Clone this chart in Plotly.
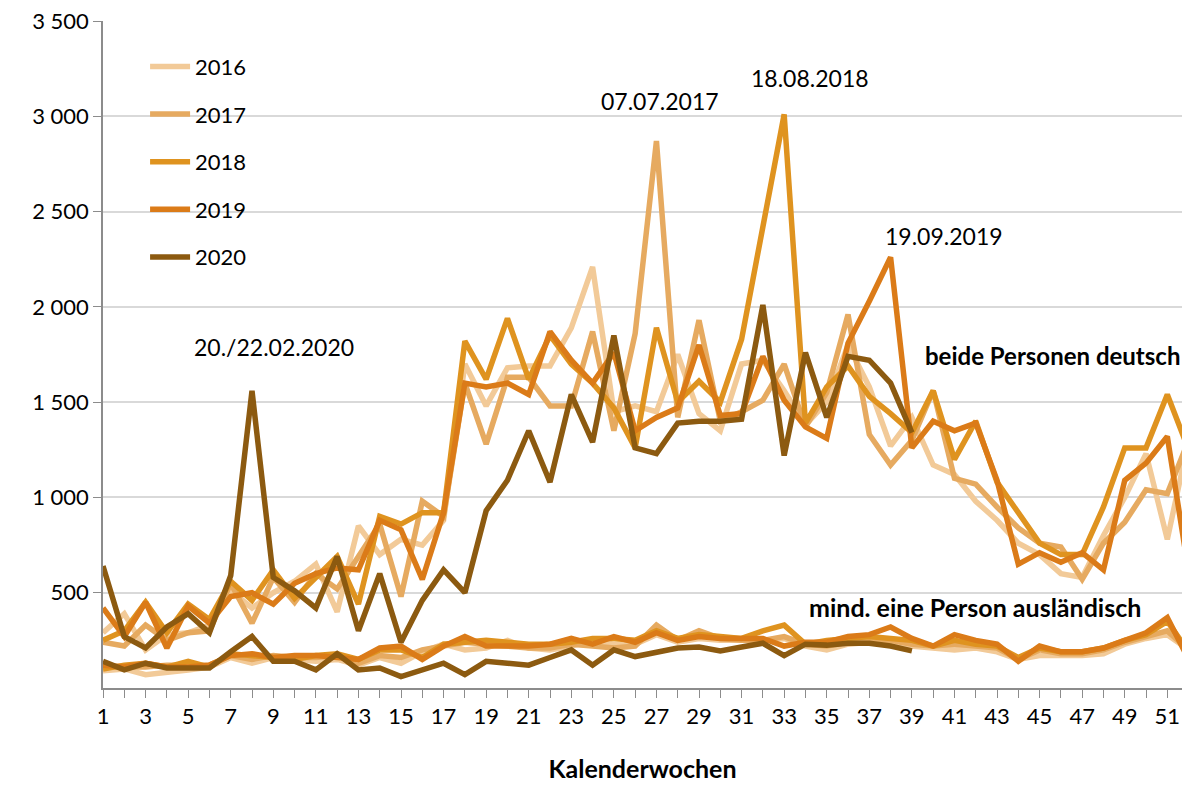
import plotly.graph_objects as go

weeks = list(range(1, 53))
years = ["2016", "2017", "2018", "2019", "2020"]
colors = ["#F2CA98", "#E6AA60", "#DF931F", "#DB7B18", "#8C5A10"]

# beide Personen deutsch
beide_2016 = [290, 390, 200, 280, 290, 330, 510, 420, 500, 560, 650, 400, 850, 700, 780, 750, 880, 1700, 1480, 1680,
              1690, 1690, 1890, 2210, 1450, 1480, 1450, 1750, 1440, 1350, 1700, 1720, 1560, 1380, 1500, 1800, 1580, 1270,
              1420, 1170, 1120, 980, 880, 760, 700, 600, 580, 800, 1000, 1230, 780, 1300]
beide_2017 = [240, 220, 330, 250, 290, 300, 550, 340, 580, 450, 600, 520, 690, 860, 480, 980, 900, 1600, 1280, 1630,
              1630, 1480, 1480, 1870, 1350, 1860, 2870, 1420, 1930, 1400, 1450, 1510, 1700, 1370, 1550, 1960, 1330, 1170,
              1300, 1560, 1100, 1070, 950, 840, 760, 740, 570, 760, 870, 1040, 1020, 1300]
beide_2018 = [250, 300, 450, 290, 440, 360, 560, 460, 620, 470, 580, 690, 440, 900, 860, 920, 920, 1820, 1620, 1940,
              1620, 1850, 1700, 1600, 1470, 1260, 1890, 1500, 1610, 1500, 1830, 2420, 3010, 1390, 1580, 1690, 1530, 1440,
              1340, 1560, 1200, 1400, 1080, 920, 760, 700, 700, 950, 1260, 1260, 1540, 1250]
beide_2019 = [420, 270, 450, 210, 430, 340, 480, 500, 440, 550, 600, 630, 620, 880, 830, 570, 920, 1600, 1580, 1600,
              1540, 1870, 1720, 1600, 1760, 1350, 1420, 1470, 1800, 1430, 1440, 1740, 1510, 1370, 1310, 1810, 2030, 2260,
              1260, 1400, 1350, 1390, 1090, 650, 710, 660, 710, 620, 1090, 1180, 1320, 610]
beide_2020 = [640, 270, 210, 320, 390, 290, 590, 1560, 580, 510, 420, 690, 300, 600, 240, 460, 620, 500, 930, 1090,
              1350, 1080, 1540, 1290, 1850, 1260, 1230, 1390, 1400, 1400, 1410, 2010, 1220, 1760, 1420, 1740, 1720, 1600,
              1340]

# mind. eine Person ausländisch
mind_2016 = [90, 100, 70, 80, 95, 110, 160, 130, 160, 150, 140, 150, 120, 160, 130, 190, 230, 200, 210, 250,
             210, 200, 220, 250, 230, 230, 280, 240, 260, 250, 250, 250, 260, 220, 200, 230, 240, 230, 220, 210,
             200, 210, 190, 150, 170, 170, 170, 180, 230, 260, 280, 200]
mind_2017 = [110, 110, 110, 120, 120, 120, 170, 150, 170, 160, 160, 170, 130, 170, 160, 200, 220, 240, 230, 220,
             210, 210, 230, 220, 210, 220, 330, 250, 300, 260, 250, 250, 270, 230, 220, 240, 250, 250, 230, 220,
             230, 220, 210, 150, 200, 180, 180, 200, 240, 270, 300, 200]
mind_2018 = [100, 120, 130, 110, 140, 110, 180, 170, 160, 150, 170, 180, 150, 200, 200, 160, 230, 240, 250, 240,
             230, 230, 240, 260, 260, 250, 300, 260, 280, 270, 260, 300, 330, 230, 250, 260, 270, 260, 250, 220,
             250, 230, 220, 160, 210, 190, 190, 210, 250, 280, 350, 190]
mind_2019 = [120, 110, 130, 110, 110, 120, 170, 180, 160, 170, 170, 160, 150, 210, 220, 150, 220, 270, 220, 220,
             220, 230, 260, 230, 270, 240, 290, 250, 270, 260, 260, 260, 220, 240, 240, 270, 280, 320, 260, 220,
             280, 250, 230, 140, 220, 190, 190, 210, 250, 290, 370, 150]
mind_2020 = [140, 95, 130, 105, 105, 105, 190, 270, 140, 140, 95, 180, 95, 105, 60, 95, 130, 70, 140, 130,
             120, 160, 200, 120, 200, 165, 185, 210, 215, 195, 215, 235, 170, 230, 225, 235, 235, 220, 195]

beide = [beide_2016, beide_2017, beide_2018, beide_2019, beide_2020]
mind = [mind_2016, mind_2017, mind_2018, mind_2019, mind_2020]

y_ticks = [500, 1000, 1500, 2000, 2500, 3000, 3500]
y_tick_text = ["500", "1 000", "1 500", "2 000", "2 500", "3 000", "3 500"]

# label text, label position (week, value)
peak_labels = [("20./22.02.2020", 9.05, 1790), ("07.07.2017", 27.15, 3080),
               ("18.08.2018", 34.2, 3200), ("19.09.2019", 40.5, 2370)]

FONT = "Lato, 'Open Sans', sans-serif"

fig = go.Figure()
for yr, col, m in zip(years, colors, mind):
    fig.add_trace(go.Scatter(x=weeks[:len(m)], y=m, mode="lines", name=yr, legendgroup=yr, showlegend=False,
                             line=dict(color=col, width=5.5), hoverinfo="skip"))
for yr, col, b in zip(years, colors, beide):
    fig.add_trace(go.Scatter(x=weeks[:len(b)], y=b, mode="lines", name=yr, legendgroup=yr, showlegend=True,
                             line=dict(color=col, width=5.5)))

for txt, wk, val in peak_labels:
    fig.add_annotation(x=wk, y=val, text=txt, showarrow=False, xanchor="center", yanchor="middle",
                       font=dict(family=FONT, size=23, color="#000000"))

fig.add_annotation(x=1.0, xref="paper", y=1745, text="<b>beide Personen deutsch</b>", showarrow=False,
                   xanchor="right", yanchor="middle", font=dict(family=FONT, size=24, color="#000000"))
fig.add_annotation(x=41.95, y=425, text="<b>mind. eine Person ausländisch</b>", showarrow=False,
                   xanchor="center", yanchor="middle", font=dict(family=FONT, size=25, color="#000000"))

fig.update_layout(
    width=1182, height=785,
    margin=dict(l=103, r=0, t=21, b=97, autoexpand=False),
    paper_bgcolor="white", plot_bgcolor="white",
    font=dict(family=FONT, size=22, color="#000000"),
    showlegend=True,
    legend=dict(x=0.039, y=0.963, xanchor="left", yanchor="top", bgcolor="rgba(0,0,0,0)",
                font=dict(family=FONT, size=22), tracegroupgap=16, itemwidth=40),
    xaxis=dict(range=[1, 51.69], tick0=1, dtick=2, showgrid=False, zeroline=False, automargin=False,
               showline=True, linecolor="#8C8C8C", linewidth=1.5,
               ticks="outside", ticklen=8, tickcolor="#8C8C8C",
               minor=dict(dtick=1, tick0=1, ticks="outside", ticklen=8, tickcolor="#8C8C8C", showgrid=False),
               title=dict(text="<b>Kalenderwochen</b>", font=dict(family=FONT, size=25), standoff=32),
               tickfont=dict(size=22), ticklabeloverflow="allow"),
    yaxis=dict(range=[0, 3500], tickvals=y_ticks, ticktext=y_tick_text, showgrid=True, gridcolor="#D9D9D9",
               gridwidth=1.5, zeroline=False, showline=True, linecolor="#8C8C8C", linewidth=1.5, automargin=False,
               ticks="outside", ticklen=8, tickcolor="#8C8C8C", tickfont=dict(size=22),
               ticklabeloverflow="allow"),
)

fig.write_html("out.html", config={"displayModeBar": False},
               post_script="document.body.style.margin='0px';document.body.style.overflow='hidden';")
